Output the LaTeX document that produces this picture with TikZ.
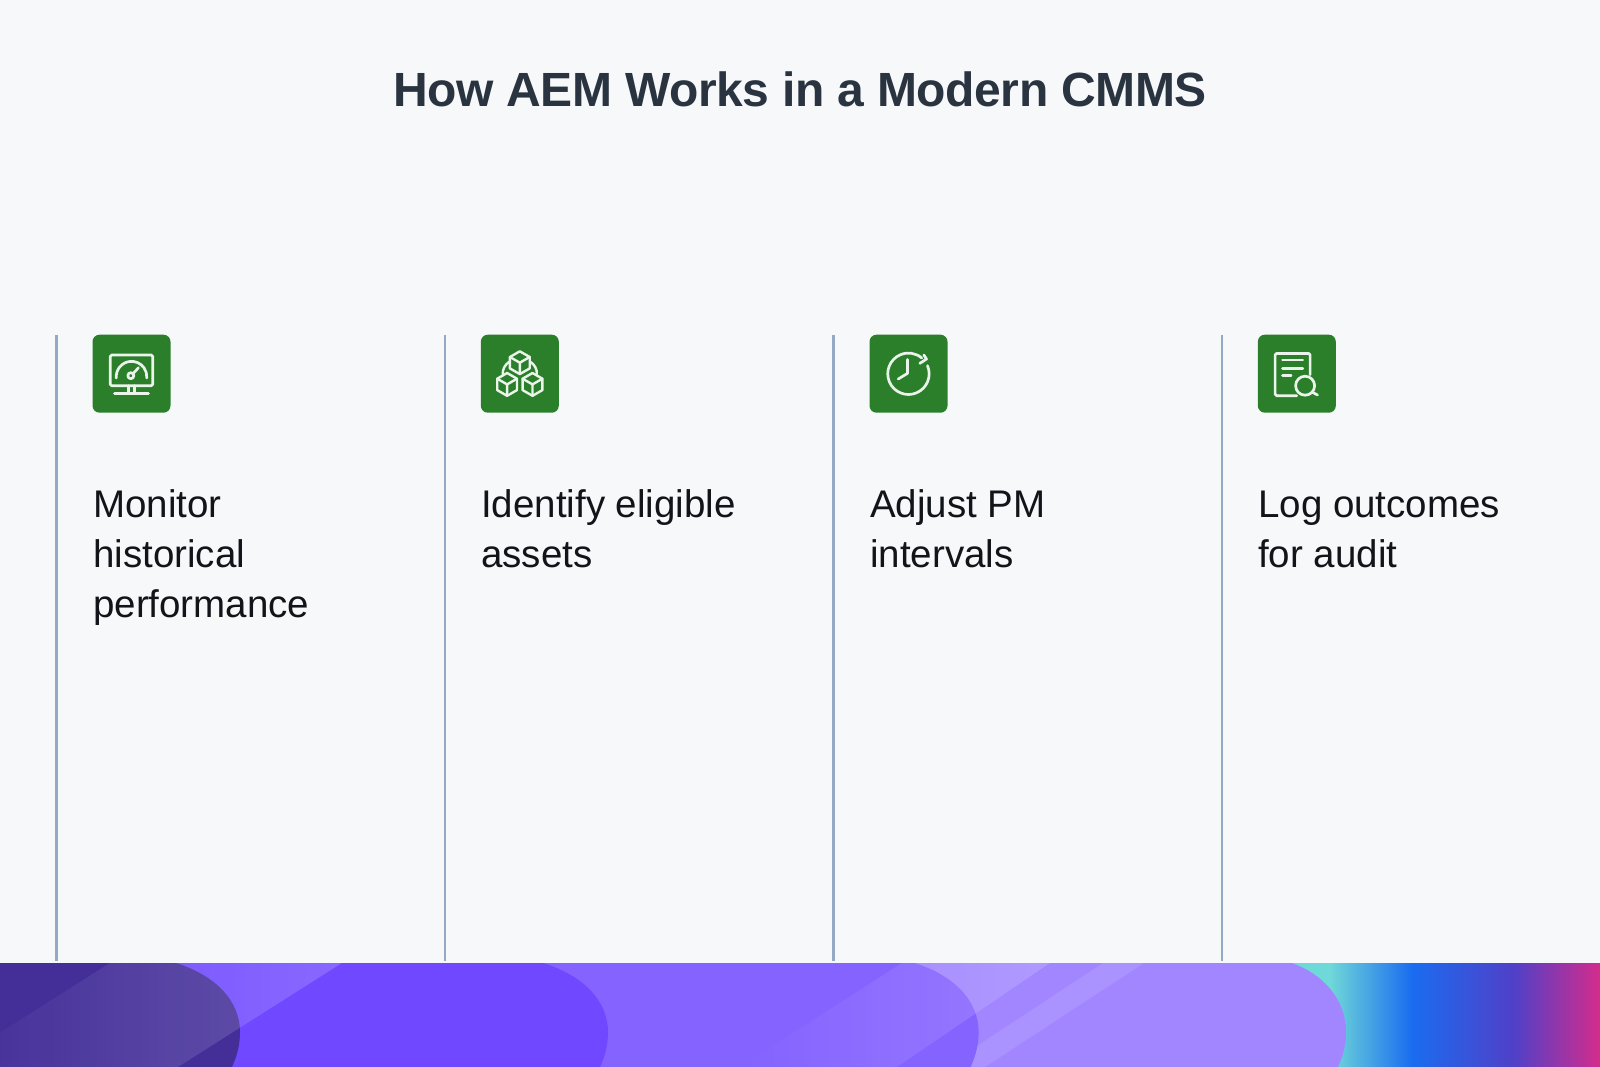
\documentclass[tikz,border=0pt]{standalone}
\usepackage{fontspec}
\setmainfont{Liberation Sans}
\usetikzlibrary{fadings}
\definecolor{pagebg}{HTML}{F6F8FA}
\definecolor{rulec}{HTML}{95A8C4}
\definecolor{boxg}{HTML}{2B7F2B}
\definecolor{iconc}{HTML}{EAF4EA}
\definecolor{titlec}{HTML}{2A3440}
\definecolor{bodyc}{HTML}{111418}
\definecolor{shA}{HTML}{442F99}
\definecolor{shB}{HTML}{6F48FF}
\definecolor{shC}{HTML}{8563FF}
\definecolor{shD}{HTML}{A186FF}
\definecolor{grA}{HTML}{6FD8D8}
\definecolor{grB}{HTML}{1A6CF0}
\definecolor{grC}{HTML}{5040C8}
\definecolor{grD}{HTML}{D42C8C}
\tikzfading[name=streakfade,left color=transparent!100,middle color=transparent!94,right color=transparent!82]
\tikzfading[name=streakfadeB,left color=transparent!100,middle color=transparent!96,right color=transparent!84]
\tikzset{
  colrule/.style={draw=rulec,line width=2.6pt},
  iconbox/.style={fill=boxg,rounded corners=7pt,minimum width=78pt,minimum height=78pt,inner sep=0pt},
  steptext/.style={anchor=base west,inner sep=0pt,text=bodyc,font=\fontsize{38.5}{38.5}\selectfont},
  icon/.style={draw=iconc,line width=2.7pt,line cap=round,line join=round},
}
\newcommand{\bandlobe}[3]{% apex x, colour, start offset
  \fill[#2] (0,963) -- (#1-#3,963) .. controls (#1-#3*0.4,975) and (#1,1000) .. (#1,1032)
    .. controls (#1,1045) and (#1-3,1056) .. (#1-8,1067) -- (0,1067) -- cycle;}
\newcommand{\cubeicon}[2]{%
  \begin{scope}[shift={(#1,#2)}]
    \draw[icon,line width=2.4pt] (0,11.4) -- (9.9,5.7) -- (9.9,-5.7) -- (0,-11.4) -- (-9.9,-5.7) -- (-9.9,5.7) -- cycle;
    \draw[icon,line width=2.4pt] (-9.9,5.7) -- (0,0) -- (9.9,5.7) (0,0) -- (0,-11.4);
  \end{scope}}
\begin{document}
\begin{tikzpicture}[x=1pt,y=-1pt]
\useasboundingbox (0,0) rectangle (1600,1067);
\fill[pagebg] (0,0) rectangle (1600,1067);
% band
\fill[grA] (1280,963) rectangle (1331,1067);
\shade[left color=grA,right color=grB] (1330,963) rectangle (1412,1067);
\shade[left color=grB,right color=grC] (1412,963) rectangle (1514,1067);
\shade[left color=grC,right color=grD] (1514,963) rectangle (1600,1067);
\bandlobe{1346}{shD}{54}
\fill[white,opacity=0.11] (1103,963) -- (1144,963) -- (985,1067) -- (945,1067) -- cycle;
\bandlobe{978.6}{shC}{64}
\bandlobe{608}{shB}{65}
\bandlobe{240}{shA}{64}
\fill[white,path fading=streakfade] (110,963) -- (342,963) -- (178,1067) -- (-54,1067) -- cycle;
\fill[white,path fading=streakfadeB] (902,963) -- (1050,963) -- (897,1067) -- (740,1067) -- cycle;
% rules
\foreach \rx in {56.5,444.8,833.6,1222}
  \draw[colrule] (\rx,335) -- (\rx,960.5);
% title
\node[anchor=base,inner sep=0pt,text=titlec,font=\fontsize{48}{48}\selectfont\bfseries\addfontfeature{LetterSpace=-0.9}] (title) at (800,107) {How AEM Works in a Modern CMMS};
% boxes
\node[iconbox] (boxA) at (131.5,373.7) {};
\node[iconbox] (boxB) at (519.8,373.7) {};
\node[iconbox] (boxC) at (908.5,373.7) {};
\node[iconbox] (boxD) at (1296.8,373.7) {};
% texts
\node[steptext] (a1) at (93,517) {Monitor};
\node[steptext] (a2) at (93,567) {historical};
\node[steptext] (a3) at (93,617) {performance};
\node[steptext] (b1) at (481,517) {Identify eligible};
\node[steptext] (b2) at (481,567) {assets};
\node[steptext] (c1) at (870,517) {Adjust PM};
\node[steptext] (c2) at (870,567) {intervals};
\node[steptext] (d1) at (1258,517) {Log outcomes};
\node[steptext] (d2) at (1258,567) {for audit};
% icon 1
\begin{scope}[shift={(boxA.center)},x=1pt,y=1pt]
  \draw[icon,rounded corners=1.5pt] (-21.3,-12) rectangle (21.3,18.7);
  \draw[icon] (-2.7,-12) -- (-2.7,-19.7) (2.7,-12) -- (2.7,-19.7) (-17,-19.7) -- (17,-19.7);
  \draw[icon] (-15.2,-4.3) arc[start angle=185,end angle=-5,radius=15.3pt];
  \draw[icon] (-0.7,-2) circle[radius=3pt];
  \draw[icon] (1.5,0) -- (7,6);
\end{scope}
% icon 2
\begin{scope}[shift={(boxB.center)},x=1pt,y=1pt]
  \cubeicon{0}{11}
  \cubeicon{-12.7}{-10.7}
  \cubeicon{12.7}{-10.7}
  \draw[icon,line width=2.4pt] (-10.5,12) .. controls (-15,9) and (-17.5,4) .. (-17,-0.5);
  \draw[icon,line width=2.4pt] (10.5,12) .. controls (15,9) and (17.5,4) .. (17,-0.5);
\end{scope}
% icon 3
\begin{scope}[shift={(boxC.center)},x=1pt,y=1pt]
  \draw[icon] (19,8) arc[start angle=23,end angle=-310,radius=20.7pt];
  \draw[icon] (15.3,18.7) -- (18,14.7) -- (11.3,10.3);
  \draw[icon] (-1,14.3) -- (-1,0.3) -- (-10.3,-5.3);
\end{scope}
% icon 4
\begin{scope}[shift={(boxD.center)},x=1pt,y=1pt]
  \draw[icon,rounded corners=1.5pt] (13.3,-1) -- (13.3,20.3) -- (-21.7,20.3) -- (-21.7,-22) -- (0,-22);
  \draw[icon] (-14.3,13.7) -- (6,13.7) (-14.3,5.3) -- (6,5.3) (-14.3,-2) -- (-5.7,-2);
  \draw[icon] (8.3,-12) circle[radius=9.5pt];
  \draw[icon] (15.5,-18.5) -- (20.7,-21.3);
\end{scope}
\end{tikzpicture}
\end{document}
